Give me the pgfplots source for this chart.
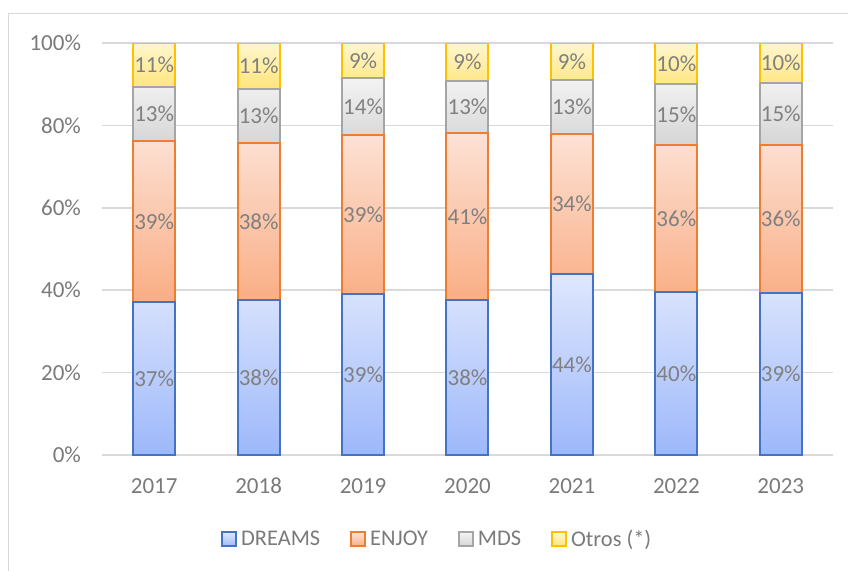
\documentclass[border=0pt]{standalone}
\usepackage{fontspec}
\setmainfont{Carlito}
\usepackage{pgfplots}
\pgfplotsset{compat=1.18}
\usepackage{pgfplotstable}

\definecolor{framegray}{HTML}{D9D9D9}
\definecolor{gridgray}{HTML}{D9D9D9}
\definecolor{tickgray}{HTML}{7A7A7A}
\definecolor{labelgray}{HTML}{808080}
\definecolor{dline}{HTML}{4472C4}
\definecolor{dtop}{HTML}{DFE7FD}
\definecolor{dbot}{HTML}{9DB8FA}
\definecolor{eline}{HTML}{ED7D31}
\definecolor{etop}{HTML}{FDE2D6}
\definecolor{ebot}{HTML}{F9AD84}
\definecolor{mline}{HTML}{A5A5A5}
\definecolor{mtop}{HTML}{F3F3F3}
\definecolor{mbot}{HTML}{D5D5D5}
\definecolor{oline}{HTML}{FFC000}
\definecolor{otop}{HTML}{FFF6CF}
\definecolor{obot}{HTML}{FFE57A}

\pgfplotstableread{
x d dl
0 37.1 37
1 37.6 38
2 39.1 39
3 37.6 38
4 43.9 44
5 39.6 40
6 39.3 39
}\dreams
\pgfplotstableread{
x d dl
0 39.1 39
1 38.1 38
2 38.6 39
3 40.6 41
4 34.0 34
5 35.6 36
6 35.9 36
}\enjoy
\pgfplotstableread{
x d dl
0 13.1 13
1 13.1 13
2 13.8 14
3 12.6 13
4 13.1 13
5 14.8 15
6 15.1 15
}\mds
\pgfplotstableread{
x d dl
0 10.7 11
1 11.2 11
2 8.5 9
3 9.2 9
4 9.0 9
5 10.0 10
6 9.7 10
}\otros

\pgfplotsset{
  segstyle/.style={line width=1pt,
    point meta=explicit symbolic,
    nodes near coords={\pgfplotspointmeta\%},
    every node near coord/.append style={anchor=center,
       font=\fontsize{11.5}{13}\selectfont, text=labelgray, inner sep=0pt},
  }
}

\begin{document}
\begin{tikzpicture}
\useasboundingbox (0,0) rectangle (424pt,285pt);
\draw[framegray, line width=0.75pt] (4.25pt,-2pt) -- (4.25pt,278.25pt) -- (426pt,278.25pt);
\begin{axis}[
  at={(51pt,57.5pt)}, anchor=south west,
  scale only axis, width=365.5pt, height=206pt,
  ybar stacked, bar width=21pt,
  xmin=-0.5, xmax=6.5, ymin=0, ymax=100,
  xtick={0,1,2,3,4,5,6},
  xticklabels={2017,2018,2019,2020,2021,2022,2023},
  ytick={0,20,40,60,80,100},
  yticklabel={\pgfmathprintnumber{\tick}\%},
  /pgf/number format/assume math mode=true,
  ymajorgrids, grid style={gridgray, line width=0.75pt},
  axis line style={draw=none}, major tick length=0pt,
  tick label style={font=\fontsize{11.5}{13}\selectfont, text=tickgray},
  yticklabel style={xshift=-7pt},
  xticklabel style={yshift=-8pt, text height=7.5pt, text depth=0pt},
  legend image code/.code={\draw[#1] (0pt,-3.5pt) rectangle (7pt,3.5pt);},
  legend style={at={(0.46,-0.205)}, anchor=center, draw=none, fill=none,
     legend columns=4, font=\fontsize{11.2}{13}\selectfont, text=tickgray,
     /tikz/every even column/.append style={column sep=13pt}},
]
\addplot[segstyle, draw=dline, top color=dtop, bottom color=dbot] table[x=x, y=d, meta=dl] {\dreams};
\addlegendentry{DREAMS}
\addplot[segstyle, draw=eline, top color=etop, bottom color=ebot] table[x=x, y=d, meta=dl] {\enjoy};
\addlegendentry{ENJOY}
\addplot[segstyle, draw=mline, top color=mtop, bottom color=mbot] table[x=x, y=d, meta=dl] {\mds};
\addlegendentry{MDS}
\addplot[segstyle, draw=oline, top color=otop, bottom color=obot] table[x=x, y=d, meta=dl] {\otros};
\addlegendentry{Otros (*)}
\end{axis}
\end{tikzpicture}
\end{document}
